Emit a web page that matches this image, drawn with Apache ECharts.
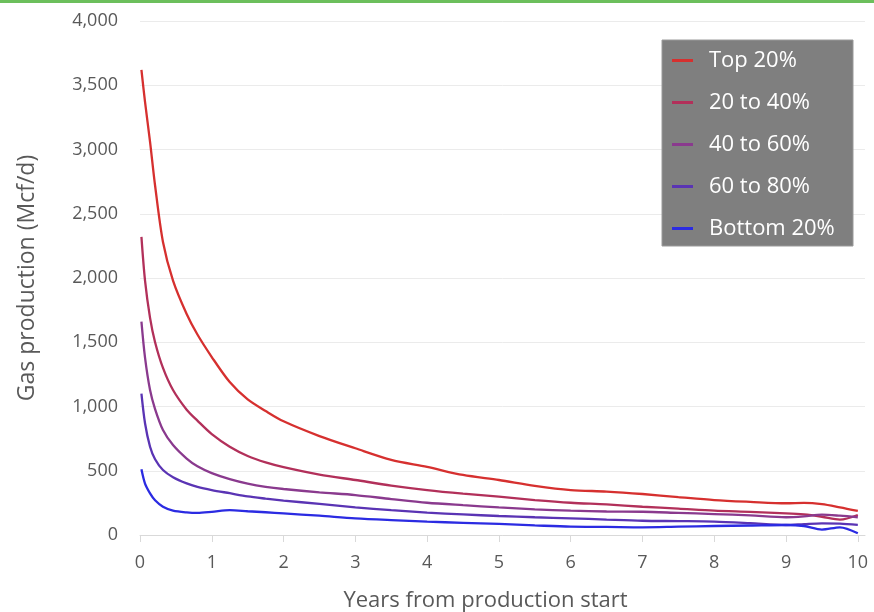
<!DOCTYPE html>
<html>
<head>
<meta charset="utf-8">
<script src="https://cdn.jsdelivr.net/npm/echarts@6/dist/echarts.min.js"></script>
<style>
html,body{margin:0;padding:0;background:#fff;}
#chart{width:874px;height:612px;}
</style>
</head>
<body>
<div id="chart"></div>
<script>
// Years from production start
const years = [0.02, 0.07, 0.14, 0.21, 0.32, 0.46, 0.65, 0.8, 1.0, 1.25, 1.5, 1.75, 2, 2.5, 3, 3.5, 4, 4.5, 5, 5.5, 6, 6.5, 7, 7.5, 8, 8.5, 9, 9.25, 9.5, 9.75, 10];
const top20     = [3620, 3370, 3060, 2720, 2280, 1980, 1720, 1560, 1385, 1190, 1055, 965, 885, 770, 675, 585, 530, 467, 428, 383, 350, 338, 319, 295, 272, 258, 247, 250, 240, 215, 187];
const p20to40   = [2320, 1980, 1690, 1500, 1300, 1128, 975, 890, 785, 687, 615, 565, 528, 470, 428, 385, 350, 322, 298, 272, 251, 238, 220, 205, 189, 180, 169, 160, 142, 120, 156];
const p40to60   = [1660, 1380, 1128, 980, 817, 700, 595, 535, 482, 435, 400, 375, 358, 332, 311, 280, 251, 232, 215, 200, 189, 183, 181, 172, 163, 152, 138, 145, 158, 150, 138];
const p60to80   = [1100, 870, 687, 590, 506, 450, 402, 375, 350, 325, 300, 283, 268, 242, 215, 193, 174, 160, 148, 138, 130, 120, 111, 108, 104, 92, 78, 85, 91, 88, 78];
const bottom20  = [511, 400, 324, 270, 220, 190, 176, 172, 180, 193, 185, 177, 168, 150, 130, 116, 104, 95, 86, 75, 65, 63, 60, 65, 70, 74, 78, 70, 42, 60, 13];
const seriesNames = ['Top 20%', '20 to 40%', '40 to 60%', '60 to 80%', 'Bottom 20%'];
const seriesValues = [top20, p20to40, p40to60, p60to80, bottom20];
const xTicks = [0, 1, 2, 3, 4, 5, 6, 7, 8, 9, 10];

const colors = ['#d6302f', '#b2305a', '#8a3a8e', '#5a34b4', '#2b2be2'];
const font = 'Open Sans';

const chart = echarts.init(document.getElementById('chart'), null, {renderer: 'canvas'});
chart.setOption({
  animation: false,
  backgroundColor: '#ffffff',
  textStyle: {fontFamily: font},
  graphic: [
    {type: 'rect', shape: {x: 0, y: 0, width: 874, height: 3}, style: {fill: '#6cbf5c'}, z: 10},
    {type: 'rect', shape: {x: 662, y: 40, width: 191, height: 206}, style: {fill: '#7f7f7f', stroke: '#9a9a9a', lineWidth: 1}, z: 5}
  ],
  grid: {left: 140, right: 9, top: 21, bottom: 77, outerBoundsMode: 'none', containLabel: false},
  legend: {
    orient: 'vertical',
    left: 672,
    top: 49,
    padding: 0,
    itemWidth: 21,
    itemHeight: 3,
    itemGap: 19,
    icon: 'rect',
    z: 20,
    textStyle: {color: '#ffffff', fontSize: 22, fontFamily: font, lineHeight: 23, padding: [0, 0, 0, 11]},
    data: seriesNames
  },
  xAxis: {
    type: 'value',
    min: 0,
    max: 10.1,
    interval: 1,
    name: 'Years from production start',
    nameLocation: 'middle',
    nameGap: 55,
    nameTextStyle: {color: '#595959', fontSize: 22, fontFamily: font, padding: [0, 34, 0, 0]},
    axisLine: {show: true, lineStyle: {color: '#d9d9d9', width: 1}},
    axisTick: {show: true, length: 7, lineStyle: {color: '#d9d9d9'}, customValues: xTicks},
    axisLabel: {color: '#595959', fontSize: 18, fontFamily: font, margin: 19, customValues: xTicks},
    splitLine: {show: false}
  },
  yAxis: {
    type: 'value',
    min: 0,
    max: 4000,
    interval: 500,
    name: 'Gas production (Mcf/d)',
    nameLocation: 'middle',
    nameGap: 101,
    nameTextStyle: {color: '#595959', fontSize: 23, fontFamily: font},
    axisLine: {show: false},
    axisTick: {show: false},
    axisLabel: {color: '#595959', fontSize: 18, fontFamily: font, margin: 22,
      formatter: v => v.toLocaleString('en-US')},
    splitLine: {show: true, lineStyle: {color: '#ebebeb', width: 1}}
  },
  series: seriesNames.map((name, i) => ({
    name: name,
    type: 'line',
    data: years.map((x, j) => [x, seriesValues[i][j]]),
    showSymbol: false,
    symbol: 'none',
    smooth: 0.3,
    itemStyle: {color: colors[i]},
    lineStyle: {color: colors[i], width: 2.3},
    z: 3
  }))
});
</script>
</body>
</html>
